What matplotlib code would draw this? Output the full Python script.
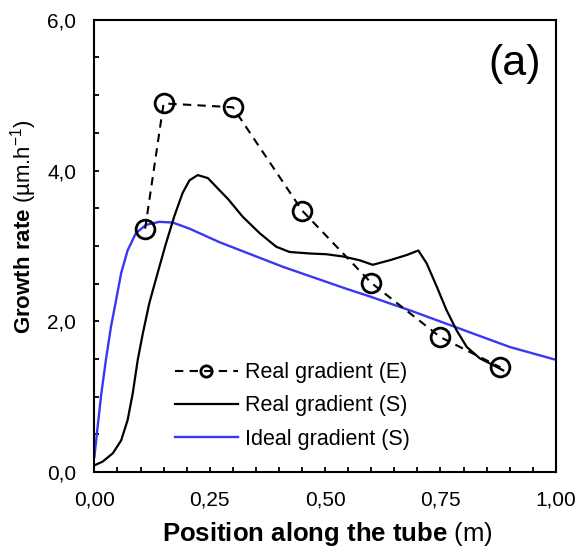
"""Growth rate along the tube: experimental vs simulated gradients."""

import matplotlib

matplotlib.use("Agg")
import matplotlib.pyplot as plt
from matplotlib.ticker import FixedLocator, FuncFormatter, MultipleLocator

plt.rcParams["font.family"] = ["Liberation Sans", "DejaVu Sans"]
plt.rcParams["mathtext.fontset"] = "custom"
plt.rcParams["mathtext.rm"] = "Liberation Sans"
plt.rcParams["mathtext.bf"] = "Liberation Sans:bold"
plt.rcParams["mathtext.it"] = "Liberation Sans:italic"

# Real gradient (E) - measured points
exp_x = [0.11, 0.15, 0.30, 0.45, 0.60, 0.75, 0.88]
exp_y = [3.23, 4.89, 4.84, 3.47, 2.51, 1.79, 1.39]

# Real gradient (S) - simulated
real_x = [0.000, 0.018, 0.040, 0.058, 0.072, 0.083, 0.094, 0.105, 0.119,
          0.137, 0.155, 0.173, 0.191, 0.206, 0.224, 0.246, 0.271, 0.290,
          0.321, 0.358, 0.394, 0.423, 0.467, 0.503, 0.539, 0.575, 0.603,
          0.640, 0.677, 0.702, 0.720, 0.742, 0.763, 0.785, 0.807, 0.835,
          0.864, 0.886]
real_y = [0.09, 0.14, 0.25, 0.42, 0.69, 1.04, 1.49, 1.84, 2.24,
          2.64, 3.03, 3.39, 3.70, 3.87, 3.94, 3.90, 3.74, 3.62,
          3.39, 3.17, 2.99, 2.92, 2.90, 2.89, 2.86, 2.81, 2.75,
          2.81, 2.88, 2.94, 2.77, 2.46, 2.15, 1.88, 1.66, 1.51,
          1.42, 1.35]

# Ideal gradient (S) - simulated
ideal_x = [0.000, 0.007, 0.015, 0.025, 0.036, 0.047, 0.058, 0.072, 0.090,
           0.112, 0.141, 0.170, 0.206, 0.271, 0.410, 0.547, 0.597, 0.691,
           0.900, 1.000]
ideal_y = [0.20, 0.60, 1.04, 1.49, 1.93, 2.28, 2.64, 2.94, 3.17,
           3.28, 3.32, 3.31, 3.23, 3.05, 2.72, 2.43, 2.33, 2.13,
           1.66, 1.49]

x_ticks = [0.00, 0.25, 0.50, 0.75, 1.00]
y_ticks = [0.0, 2.0, 4.0, 6.0]


def comma(fmt):
    return FuncFormatter(lambda v, _: format(v, fmt).replace(".", ","))


fig = plt.figure(figsize=(5.79, 5.49), dpi=100)
ax = fig.add_axes([0.163, 0.140, 0.797, 0.824])

ax.plot(exp_x, exp_y, color="black", linestyle=(0, (4, 3)), linewidth=1.5,
        marker="o", markersize=13.5, markerfacecolor="none",
        markeredgewidth=2, label="Real gradient (E)", zorder=4)
ax.plot(real_x, real_y, color="black", linewidth=1.6,
        label="Real gradient (S)", zorder=3)
ax.plot(ideal_x, ideal_y, color="#3838f2", linewidth=1.7,
        label="Ideal gradient (S)", zorder=2)

ax.set_xlim(0, 1)
ax.set_ylim(0, 6)
ax.xaxis.set_major_locator(FixedLocator(x_ticks))
ax.xaxis.set_minor_locator(MultipleLocator(0.05))
ax.yaxis.set_major_locator(FixedLocator(y_ticks))
ax.yaxis.set_minor_locator(MultipleLocator(0.5))
ax.xaxis.set_major_formatter(comma(".2f"))
ax.yaxis.set_major_formatter(comma(".1f"))
ax.tick_params(axis="both", which="both", direction="in", labelsize=15,
               top=False, right=False, width=1.3, length=3.8)
ax.tick_params(axis="x", which="major", pad=13)
ax.tick_params(axis="y", which="major", pad=13)
for s in ax.spines.values():
    s.set_linewidth(1.5)

ax.set_xlabel(r"$\bf{Position\ along\ the\ tube}$ (m)", fontsize=18.5)
ax.xaxis.set_label_coords(0.505, -0.137)
ax.xaxis.label.set_va("center")
ax.set_ylabel(r"$\bf{Growth\ rate}$ (µm.h$^{-1}$)", fontsize=16)
ax.yaxis.set_label_coords(-0.154, 0.542)
ax.yaxis.label.set_va("center")

ax.text(0.91, 0.903, "(a)", transform=ax.transAxes, fontsize=31,
        ha="center", va="center")

ax.legend(loc="lower left", bbox_to_anchor=(0.175, 0.05), frameon=False,
          fontsize=15.5, handlelength=2.9, handletextpad=0.35,
          labelspacing=0.56, markerscale=0.6, borderpad=0, borderaxespad=0)

fig.savefig("out.png", dpi=100)
